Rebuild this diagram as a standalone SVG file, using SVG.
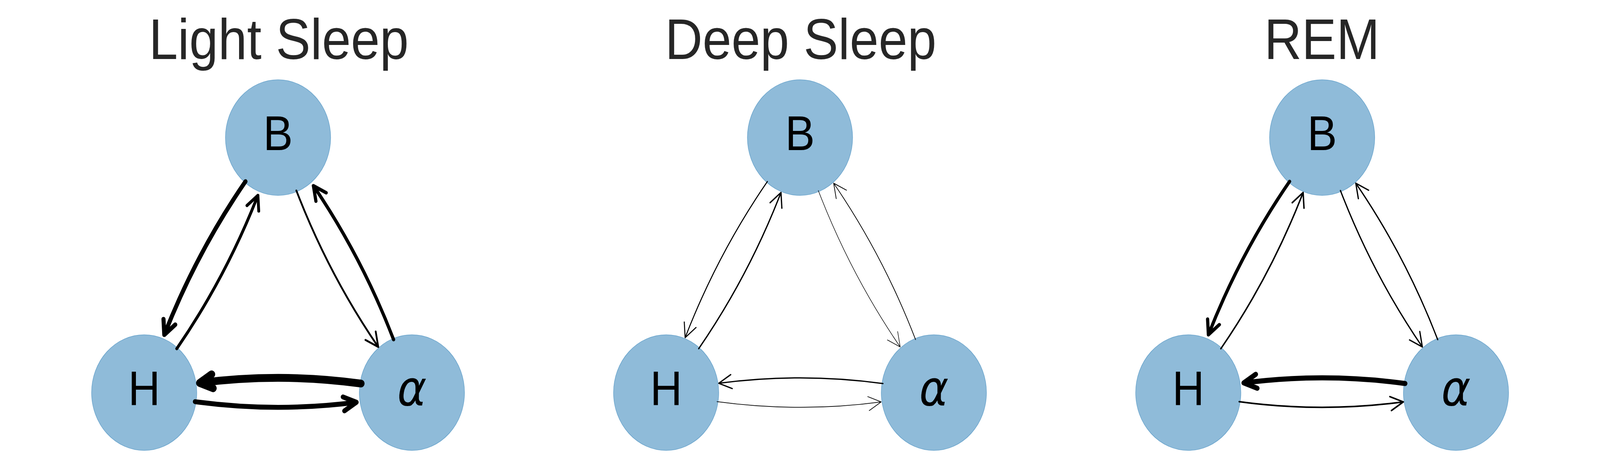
<svg xmlns="http://www.w3.org/2000/svg" width="4500" height="1200" viewBox="0 0 4500 1200" preserveAspectRatio="none">
<style>
svg{width:100vw;height:100vh}
.bg{fill:#ffffff}
.nd circle{fill:#8FBBD9;stroke:#1f77b4;stroke-opacity:0.5;stroke-width:1.5}
.lbl{font-family:"Liberation Sans",Arial,sans-serif;font-size:125px;text-anchor:middle;fill:#000000}
.greek{font-family:"DejaVu Sans",sans-serif;font-style:italic}
.title{font-family:"Liberation Sans",Arial,sans-serif;font-size:146px;text-anchor:middle;fill:#262626}
.edge{fill:none;stroke:#000000;stroke-linecap:round;stroke-linejoin:round}
</style>
<rect class="bg" x="0" y="0" width="4500" height="1200"/>
<text class="title" x="784" y="151">Light Sleep</text>
<text class="title" x="2252" y="151">Deep Sleep</text>
<text class="title" x="3718" y="151">REM</text>
<g id="light-B" class="nd"><circle cx="782" cy="352" r="148"/><text class="lbl" x="782" y="384">B</text></g>
<g id="light-H" class="nd"><circle cx="405.5" cy="1004.5" r="148"/><text class="lbl" x="405.5" y="1037">H</text></g>
<g id="light-alpha" class="nd"><circle cx="1158.5" cy="1004.5" r="148"/><text class="lbl greek" x="1158.5" y="1037">α</text></g>
<g id="deep-B" class="nd"><circle cx="2250" cy="352" r="148"/><text class="lbl" x="2250" y="384">B</text></g>
<g id="deep-H" class="nd"><circle cx="1873.5" cy="1004.5" r="148"/><text class="lbl" x="1873.5" y="1037">H</text></g>
<g id="deep-alpha" class="nd"><circle cx="2626.5" cy="1004.5" r="148"/><text class="lbl greek" x="2626.5" y="1037">α</text></g>
<g id="rem-B" class="nd"><circle cx="3718.5" cy="352" r="148"/><text class="lbl" x="3718.5" y="384">B</text></g>
<g id="rem-H" class="nd"><circle cx="3342" cy="1004.5" r="148"/><text class="lbl" x="3342" y="1037">H</text></g>
<g id="rem-alpha" class="nd"><circle cx="4095" cy="1004.5" r="148"/><text class="lbl greek" x="4095" y="1037">α</text></g>
<g id="connectors" class="edge">
<path d="M143.15,23.19 Q370.05,51.31 596.95,24.74 M563.29,46.81 L596.95,24.74 L559.1,11.05" transform="translate(782,352) rotate(120)" stroke-width="11.5"/>
<path d="M143.15,23.19 Q370.05,51.31 596.95,24.74 M563.29,46.81 L596.95,24.74 L559.1,11.05" transform="translate(405.5,1004.5) rotate(-60)" stroke-width="8"/>
<path d="M143.15,23.19 Q374.02,51.81 604.9,23.79 M571.33,46 L604.9,23.79 L566.99,10.26" transform="translate(782,352) rotate(60)" stroke-width="5"/>
<path d="M143.15,23.19 Q370.05,51.31 596.95,24.74 M563.29,46.81 L596.95,24.74 L559.1,11.05" transform="translate(1158.5,1004.5) rotate(-120)" stroke-width="9"/>
<path d="M143.15,23.19 Q370.05,51.31 596.95,24.74 M563.29,46.81 L596.95,24.74 L559.1,11.05" transform="translate(1158.5,1004.5) rotate(180)" stroke-width="20"/>
<path d="M143.15,23.19 Q370.05,51.31 596.95,24.74 M563.29,46.81 L596.95,24.74 L559.1,11.05" transform="translate(405.5,1004.5)" stroke-width="12.5"/>
<path d="M143.15,23.19 Q374.02,51.81 604.9,23.79 M571.33,46 L604.9,23.79 L566.99,10.26" transform="translate(2250,352) rotate(120)" stroke-width="2.8"/>
<path d="M143.15,23.19 Q374.02,51.81 604.9,23.79 M571.33,46 L604.9,23.79 L566.99,10.26" transform="translate(1873.5,1004.5) rotate(-60)" stroke-width="3.5"/>
<path d="M143.15,23.19 Q374.02,51.81 604.9,23.79 M571.33,46 L604.9,23.79 L566.99,10.26" transform="translate(2250,352) rotate(60)" stroke-width="1.5"/>
<path d="M143.15,23.19 Q374.02,51.81 604.9,23.79 M571.33,46 L604.9,23.79 L566.99,10.26" transform="translate(2626.5,1004.5) rotate(-120)" stroke-width="2"/>
<path d="M143.15,23.19 Q374.02,51.81 604.9,23.79 M571.33,46 L604.9,23.79 L566.99,10.26" transform="translate(2626.5,1004.5) rotate(180)" stroke-width="3.3"/>
<path d="M143.15,23.19 Q374.02,51.81 604.9,23.79 M571.33,46 L604.9,23.79 L566.99,10.26" transform="translate(1873.5,1004.5)" stroke-width="1.8"/>
<path d="M143.15,23.19 Q370.05,51.31 596.95,24.74 M563.29,46.81 L596.95,24.74 L559.1,11.05" transform="translate(3718.5,352) rotate(120)" stroke-width="9"/>
<path d="M143.15,23.19 Q374.02,51.81 604.9,23.79 M571.33,46 L604.9,23.79 L566.99,10.26" transform="translate(3342,1004.5) rotate(-60)" stroke-width="4"/>
<path d="M143.15,23.19 Q374.02,51.81 604.9,23.79 M571.33,46 L604.9,23.79 L566.99,10.26" transform="translate(3718.5,352) rotate(60)" stroke-width="3.5"/>
<path d="M143.15,23.19 Q374.02,51.81 604.9,23.79 M571.33,46 L604.9,23.79 L566.99,10.26" transform="translate(4095,1004.5) rotate(-120)" stroke-width="3.5"/>
<path d="M143.15,23.19 Q370.05,51.31 596.95,24.74 M563.29,46.81 L596.95,24.74 L559.1,11.05" transform="translate(4095,1004.5) rotate(180)" stroke-width="13"/>
<path d="M143.15,23.19 Q374.02,51.81 604.9,23.79 M571.33,46 L604.9,23.79 L566.99,10.26" transform="translate(3342,1004.5)" stroke-width="4"/>
</g>
</svg>
